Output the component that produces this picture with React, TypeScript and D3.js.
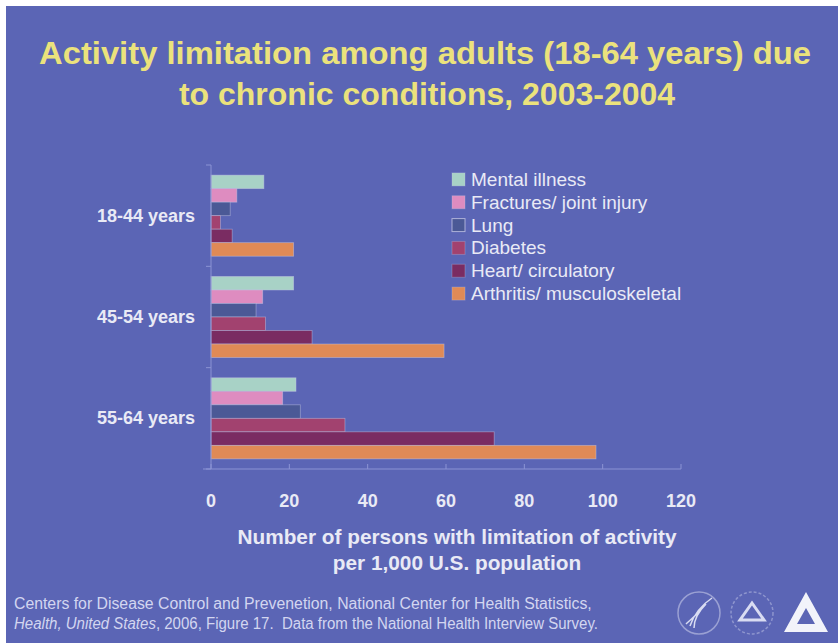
import { scaleLinear, scaleBand } from "d3";

const groups = ["18-44 years", "45-54 years", "55-64 years"];
const series = [
  "Mental illness",
  "Fractures/ joint injury",
  "Lung",
  "Diabetes",
  "Heart/ circulatory",
  "Arthritis/ musculoskeletal",
];
// one array per age group, in series order
const age18to44 = [13.5, 6.6, 4.9, 2.4, 5.4, 21.1];
const age45to54 = [21.1, 13.2, 11.5, 13.9, 25.8, 59.5];
const age55to64 = [21.7, 18.3, 22.8, 34.2, 72.3, 98.3];
const xTicks = [0, 20, 40, 60, 80, 100, 120];

const values = [age18to44, age45to54, age55to64];
const colors = ["#a8d2c6", "#de8cc0", "#4b5996", "#a2426f", "#7a2c62", "#e08a56"];

const W = 838;
const H = 643;
const BG = "#5b65b5";
const TXT = "#e9eaf5";

export default function App() {
  const x = scaleLinear().domain([0, 120]).range([211, 681]);
  const y = scaleBand<string>()
    .domain(groups)
    .range([165, 469])
    .paddingInner(0.2)
    .paddingOuter(0.1);
  const inner = scaleBand<string>()
    .domain(series)
    .range([0, y.bandwidth()]);

  const step = y.step();
  const boundaries = [0, 1, 2, 3].map((i) => 165 + i * step);

  const legend = scaleBand<string>().domain(series).range([168, 305]);

  return (
    <svg
      width={W}
      height={H}
      style={{ position: "absolute", left: 0, top: 0, display: "block" }}
      fontFamily="'Liberation Sans', Arial, sans-serif"
    >
      <rect width={W} height={H} fill="#ffffff" />
      <rect x={6} y={6} width={W - 6} height={H - 6} fill={BG} />

      {/* Title */}
      <text
        x={425}
        y={64}
        textAnchor="middle"
        fontSize={32}
        fontWeight="bold"
        fill="#ebe27c"
        textLength={772}
        lengthAdjust="spacingAndGlyphs"
      >
        Activity limitation among adults (18-64 years) due
      </text>
      <text
        x={427}
        y={105}
        textAnchor="middle"
        fontSize={32}
        fontWeight="bold"
        fill="#ebe27c"
      >
        to chronic conditions, 2003-2004
      </text>

      {/* Bars */}
      {groups.map((g, gi) => (
        <g key={g} transform={`translate(0,${y(g)})`}>
          {series.map((s, si) => (
            <rect
              key={s}
              x={x(0)}
              y={inner(s)}
              width={x(values[gi][si]) - x(0)}
              height={inner.bandwidth()}
              fill={colors[si]}
              stroke="#c4c6e6"
              strokeOpacity={0.55}
              strokeWidth={0.8}
            />
          ))}
        </g>
      ))}

      {/* Y axis */}
      <line
        x1={x(0)}
        x2={x(0)}
        y1={boundaries[0]}
        y2={boundaries[3]}
        stroke="#8c94d4"
        strokeWidth={1}
      />
      {boundaries.map((b, i) => (
        <line key={i} x1={x(0) - 5} x2={x(0)} y1={b} y2={b} stroke="#8c94d4" />
      ))}
      {groups.map((g) => (
        <text
          key={g}
          x={195}
          y={(y(g) ?? 0) + y.bandwidth() / 2 + 6}
          textAnchor="end"
          fontSize={18}
          fontWeight="bold"
          fill={TXT}
        >
          {g}
        </text>
      ))}

      {/* X axis */}
      <line x1={203} x2={x(120)} y1={469} y2={469} stroke="#8c94d4" />
      {xTicks.map((t) => (
        <g key={t}>
          <line x1={x(t)} x2={x(t)} y1={469} y2={464} stroke="#8c94d4" />
          <text
            x={x(t)}
            y={507}
            textAnchor="middle"
            fontSize={18}
            fontWeight="bold"
            fill={TXT}
          >
            {t}
          </text>
        </g>
      ))}
      <text x={457} y={544} textAnchor="middle" fontSize={20.8} fontWeight="bold" fill={TXT}>
        Number of persons with limitation of activity
      </text>
      <text x={457} y={570} textAnchor="middle" fontSize={20.8} fontWeight="bold" fill={TXT}>
        per 1,000 U.S. population
      </text>

      {/* Legend */}
      {series.map((s, i) => {
        const ly = (legend(s) ?? 0) + legend.bandwidth() / 2;
        return (
          <g key={s}>
            <rect
              x={452}
              y={ly - 6.5}
              width={13}
              height={13}
              fill={colors[i]}
              stroke="#c4c6e6"
              strokeOpacity={i === 2 ? 0.8 : 0.3}
            />
            <text x={471} y={ly + 6.5} fontSize={19} fill={TXT}>
              {s}
            </text>
          </g>
        );
      })}

      {/* Source */}
      <text x={14} y={609} fontSize={15.8} fill="#d3d6f0">
        Centers for Disease Control and Prevenetion, National Center for Health Statistics,
      </text>
      <text
        x={14}
        y={629}
        fontSize={15.8}
        fill="#d3d6f0"
        textLength={584}
        lengthAdjust="spacingAndGlyphs"
      >
        <tspan fontStyle="italic">Health, United States</tspan>, 2006, Figure 17.{"\u00a0 "}Data from
        the National Health Interview Survey.
      </text>

      {/* Logos */}
      <g fill="none" stroke="#d9dcf2" strokeWidth={1.5}>
        <circle cx={699} cy={613} r={21} strokeOpacity={0.5} />
        <path d="M712 598 C700 606 694 614 690 626 M706 604 C698 612 694 620 694 628 M702 608 C696 616 690 620 686 624" />
        <circle cx={752} cy={613} r={21} strokeOpacity={0.4} strokeDasharray="3 2" />
        <path d="M752 603 L764 620 L740 620 Z" strokeWidth={3} />
      </g>
      <path d="M806 592 L828 632 L784 632 Z M806 608 L797 624 L815 624 Z" fill="#f2f3fa" fillRule="evenodd" />
    </svg>
  );
}
